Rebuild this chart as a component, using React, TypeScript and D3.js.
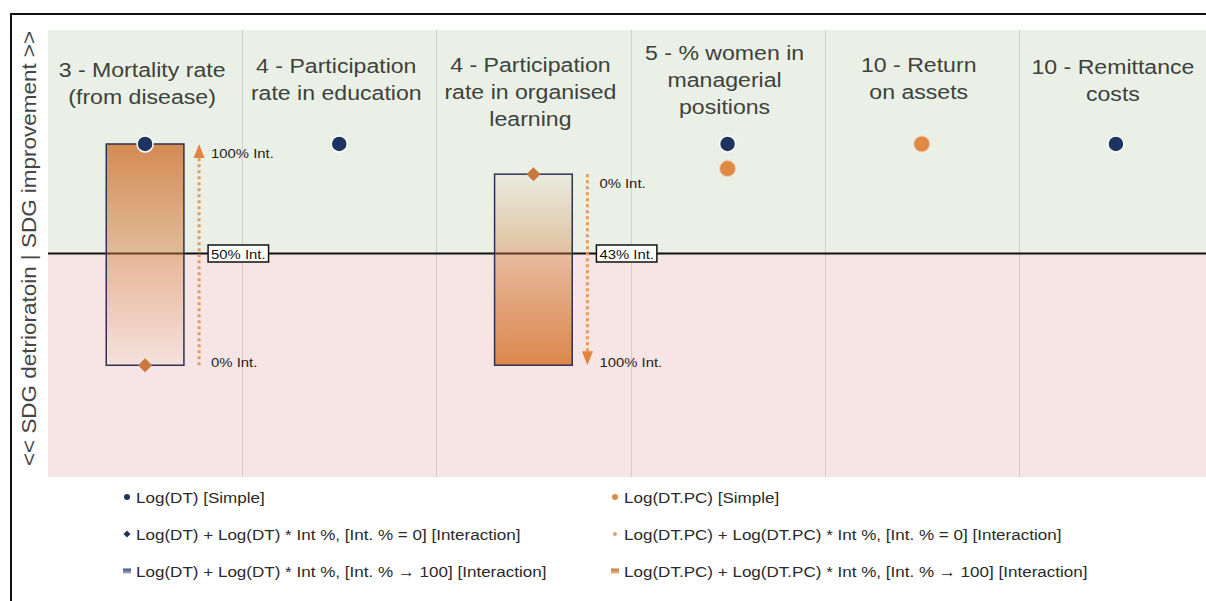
import { useEffect, useRef } from 'react';
import * as d3 from 'd3';

// Indicators (one column each)
const categories = [
  '3 - Mortality rate|(from disease)',
  '4 - Participation|rate in education',
  '4 - Participation|rate in organised|learning',
  '5 - % women in|managerial|positions',
  '10 - Return|on assets',
  '10 - Remittance|costs',
];

// Coefficients (no scale shown in the original; zero = SDG neutral)
const logDT: (number | null)[] = [0.49, 0.49, null, 0.49, null, 0.49];
const logDTPC: (number | null)[] = [null, null, null, 0.38, 0.49, null];
const interactionAt0: (number | null)[] = [-0.5, null, 0.355, null, null, null];
const interactionAt100: (number | null)[] = [0.49, null, -0.5, null, null, null];
const intAtZeroLabel: (string | null)[] = ['50% Int.', null, '43% Int.', null, null, null];

const legendLeft = [
  'Log(DT) [Simple]',
  'Log(DT) + Log(DT) * Int %, [Int. % = 0] [Interaction]',
  'Log(DT) + Log(DT) * Int %, [Int. % \u2192 100] [Interaction]',
];
const legendRight = [
  'Log(DT.PC) [Simple]',
  'Log(DT.PC) + Log(DT.PC) * Int %, [Int. % = 0] [Interaction]',
  'Log(DT.PC) + Log(DT.PC) * Int %, [Int. % \u2192 100] [Interaction]',
];

// first title line centre per column (layout only)
const titleTop = [70, 66, 65, 53, 65, 67];

const NAVY = '#1d3461';
const ORANGE = '#de8a45';
const DIAMOND = '#c8773e';
const FONT = "'Liberation Sans', Arial, Helvetica, sans-serif";
const SX = 1.1; // the source font runs wider than Arial

export default function App() {
  const svgRef = useRef<SVGSVGElement>(null);
  const width = 1206;
  const height = 601;

  useEffect(() => {
    if (!svgRef.current) return;
    const svg = d3.select(svgRef.current);
    svg.selectAll('*').remove();

    const plot = { left: 48, right: 1213, top: 30, bottom: 477 };

    const x = d3.scaleBand<string>().domain(categories).range([plot.left, plot.right]);
    const y = d3.scaleLinear().domain([-1, 1]).range([plot.bottom, plot.top]);
    const cx = (i: number) => (x(categories[i]) || 0) + x.bandwidth() / 2;

    // stretched text helper
    const wideText = (px: number, py: number, txt: string, size: number, fill: string, anchor = 'start') =>
      svg.append('text')
        .attr('transform', `translate(${px}, ${py}) scale(${SX}, 1)`)
        .attr('text-anchor', anchor)
        .attr('font-family', FONT).attr('font-size', size).attr('fill', fill).text(txt);

    const defs = svg.append('defs');
    const mkGrad = (id: string, topOrange: boolean) => {
      const g = defs.append('linearGradient').attr('id', id)
        .attr('x1', '0%').attr('y1', '0%').attr('x2', '0%').attr('y2', '100%');
      g.append('stop').attr('offset', '0%').attr('stop-color', '#d0793a')
        .attr('stop-opacity', topOrange ? 0.85 : 0.04);
      g.append('stop').attr('offset', '100%').attr('stop-color', '#d97c3a')
        .attr('stop-opacity', topOrange ? 0.04 : 0.9);
    };
    mkGrad('gradDown', true);
    mkGrad('gradUp', false);
    const lg1 = defs.append('linearGradient').attr('id', 'legNavy')
      .attr('x1', '0%').attr('y1', '0%').attr('x2', '0%').attr('y2', '100%');
    lg1.append('stop').attr('offset', '0%').attr('stop-color', '#3b4f7a');
    lg1.append('stop').attr('offset', '100%').attr('stop-color', '#a8b2c8');
    const lg2 = defs.append('linearGradient').attr('id', 'legOrange')
      .attr('x1', '0%').attr('y1', '0%').attr('x2', '0%').attr('y2', '100%');
    lg2.append('stop').attr('offset', '0%').attr('stop-color', '#c8773e');
    lg2.append('stop').attr('offset', '100%').attr('stop-color', '#eab58a');

    // frame
    svg.append('rect').attr('x', 11).attr('y', 14).attr('width', 1300).attr('height', 700)
      .attr('fill', 'white').attr('stroke', '#111').attr('stroke-width', 2);

    // improvement / deterioration zones
    svg.append('rect').attr('x', plot.left).attr('y', plot.top)
      .attr('width', plot.right - plot.left).attr('height', y(0) - plot.top)
      .attr('fill', '#eaf0e5');
    svg.append('rect').attr('x', plot.left).attr('y', y(0))
      .attr('width', plot.right - plot.left).attr('height', plot.bottom - y(0))
      .attr('fill', '#f6e5e4');

    // column separators
    categories.slice(1).forEach(c => {
      const xx = Math.round(x(c) || 0) + 0.5;
      svg.append('line').attr('x1', xx).attr('x2', xx).attr('y1', plot.top).attr('y2', plot.bottom)
        .attr('stroke', '#cfcfcf').attr('stroke-width', 1);
    });

    // zero line
    svg.append('line').attr('x1', plot.left).attr('x2', plot.right)
      .attr('y1', y(0)).attr('y2', y(0)).attr('stroke', '#111').attr('stroke-width', 2);

    // titles
    categories.forEach((c, i) => {
      const t = svg.append('text').attr('text-anchor', 'middle')
        .attr('transform', `translate(${cx(i) - 3}, 0) scale(${SX}, 1)`)
        .attr('font-family', FONT).attr('font-size', 21).attr('fill', '#3d423d');
      c.split('|').forEach((line, k) => {
        t.append('tspan').attr('x', 0).attr('y', titleTop[i] + k * 27 + 7.5).text(line);
      });
    });

    // y label
    svg.append('text')
      .attr('transform', `translate(35.5, ${(plot.top + plot.bottom) / 2 - 5}) rotate(-90) scale(1.07, 1)`)
      .attr('text-anchor', 'middle').attr('font-family', FONT).attr('font-size', 21)
      .attr('fill', '#454545')
      .text('<< SDG detrioratoin | SDG improvement >>');

    // interaction boxes
    const boxW = x.bandwidth() * 0.4;
    categories.forEach((_, i) => {
      const v0 = interactionAt0[i];
      const v100 = interactionAt100[i];
      if (v0 == null || v100 == null) return;
      const c = cx(i);
      const yTop = y(Math.max(v0, v100));
      const yBot = y(Math.min(v0, v100));
      const topIs100 = v100 > v0;
      svg.append('rect').attr('x', c - boxW / 2).attr('y', yTop)
        .attr('width', boxW).attr('height', yBot - yTop)
        .attr('fill', topIs100 ? 'url(#gradDown)' : 'url(#gradUp)')
        .attr('stroke', '#2e3152').attr('stroke-width', 1.5);

      // dotted arrow from 0% towards 100%
      const ax = c + 54;
      const yFrom = y(v0);
      const yTo = y(v100);
      const dir = yTo < yFrom ? -1 : 1;
      const head = 14;
      svg.append('line').attr('x1', ax).attr('x2', ax)
        .attr('y1', yFrom).attr('y2', yTo - dir * head)
        .attr('stroke', '#e69a5e').attr('stroke-width', 3).attr('stroke-dasharray', '3,3');
      svg.append('path')
        .attr('d', `M${ax},${yTo} L${ax - 5.5},${yTo - dir * head} L${ax + 5.5},${yTo - dir * head} Z`)
        .attr('fill', '#e0843f');

      // end labels
      wideText(c + 66, yTop + 14, topIs100 ? '100% Int.' : '0% Int.', 13.5, '#222');
      wideText(c + 66, yBot + 2, topIs100 ? '0% Int.' : '100% Int.', 13.5, '#222');

      // crossing label
      const cross = intAtZeroLabel[i];
      if (cross) {
        const bx = c + 63;
        const t = wideText(bx + 3, y(0) + 5, cross, 13.5, '#111');
        const bb = (t.node() as SVGTextElement).getBBox();
        svg.insert('rect', () => t.node())
          .attr('x', bx).attr('y', y(0) - 8.5).attr('width', bb.width * SX + 6).attr('height', 17)
          .attr('fill', 'white').attr('stroke', '#111').attr('stroke-width', 1.5);
      }

      // diamond at Int % = 0
      svg.append('path').attr('transform', `translate(${c}, ${y(v0)})`)
        .attr('d', 'M0,-7 L7,0 L0,7 L-7,0 Z').attr('fill', DIAMOND);
    });

    // simple estimates
    categories.forEach((_, i) => {
      const v = logDTPC[i];
      if (v == null) return;
      svg.append('circle').attr('cx', cx(i)).attr('cy', y(v)).attr('r', 8)
        .attr('fill', ORANGE).attr('stroke', '#f4d2b5').attr('stroke-width', 1);
    });
    categories.forEach((_, i) => {
      const v = logDT[i];
      if (v == null) return;
      svg.append('circle').attr('cx', cx(i)).attr('cy', y(v)).attr('r', 8)
        .attr('fill', NAVY).attr('stroke', 'white').attr('stroke-width', 1.5);
    });

    // legend
    const rowY = [497, 534, 571];
    const drawLegend = (items: string[], mx: number, navy: boolean) => {
      items.forEach((txt, k) => {
        const yy = rowY[k];
        if (k === 0) {
          svg.append('circle').attr('cx', mx).attr('cy', yy).attr('r', 3)
            .attr('fill', navy ? NAVY : ORANGE);
        } else if (k === 1) {
          const s = navy ? 3.5 : 2.5;
          svg.append('path').attr('transform', `translate(${mx}, ${yy})`)
            .attr('d', `M0,${-s} L${s},0 L0,${s} L${-s},0 Z`)
            .attr('fill', navy ? NAVY : '#e8a06a');
        } else {
          svg.append('rect').attr('x', mx - 4).attr('y', yy - 2.5).attr('width', 8).attr('height', 5)
            .attr('fill', navy ? 'url(#legNavy)' : 'url(#legOrange)');
        }
        wideText(mx + 9, yy + 5.5, txt, 15.5, '#2a2a2a');
      });
    };
    drawLegend(legendLeft, 127, true);
    drawLegend(legendRight, 615, false);
  }, []);

  return (
    <div style={{ position: 'absolute', left: 0, top: 0, width, height, overflow: 'hidden', background: 'white' }}>
      <svg ref={svgRef} width={width} height={height} style={{ display: 'block' }}></svg>
    </div>
  );
}
